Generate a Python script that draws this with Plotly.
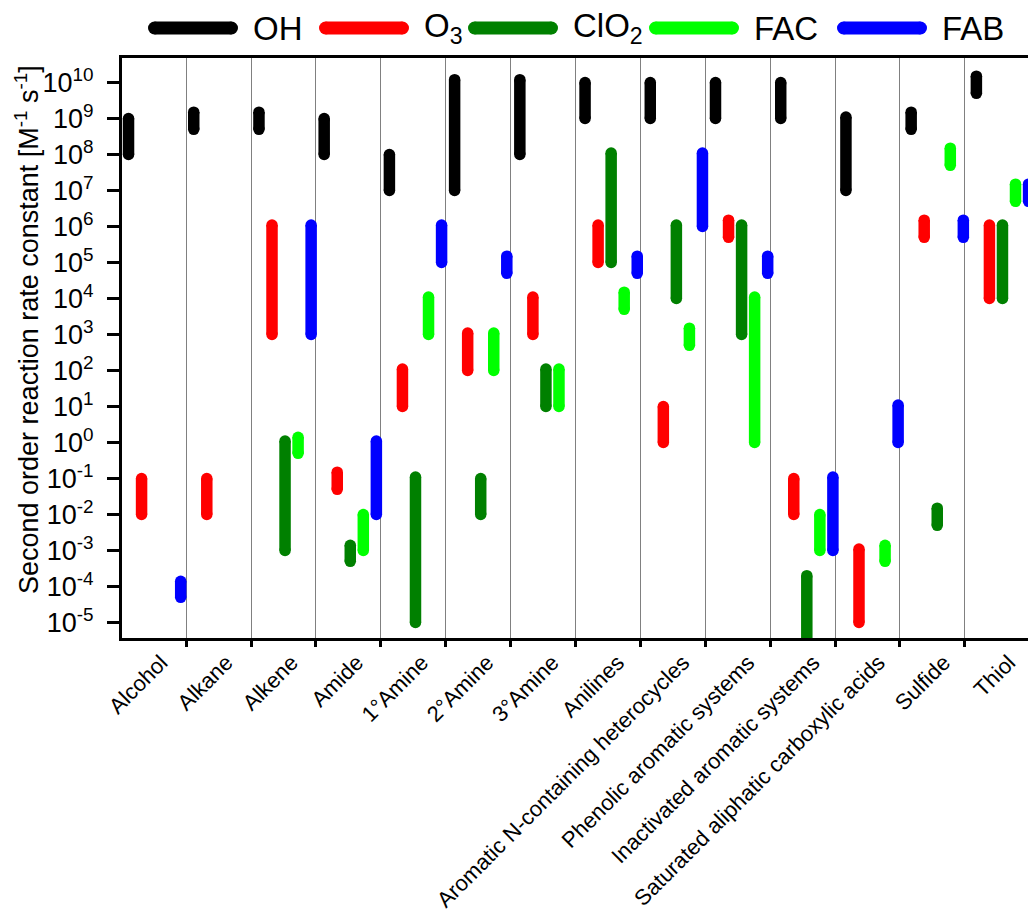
import plotly.graph_objects as go

# Reaction classes (x categories)
categories = [
    "Alcohol", "Alkane", "Alkene", "Amide", "1°Amine", "2°Amine", "3°Amine",
    "Anilines", "Aromatic N-containing heterocycles", "Phenolic aromatic systems",
    "Inactivated aromatic systems", "Saturated aliphatic carboxylic acids",
    "Sulfide", "Thiol",
]

# Oxidant labels and colours
series_names = ["OH", "O<sub>3</sub>", "ClO<sub>2</sub>", "FAC", "FAB"]
series_colors = ["#000000", "#ff0000", "#008000", "#00ff00", "#0000ff"]

# Second order rate constant ranges [M^-1 s^-1]; None = no data
oh_low = [1e8, 5e8, 5e8, 1e8, 1e7, 1e7, 1e8, 1e9, 1e9, 1e9, 1e9, 1e7, 5e8, 5e9]
oh_high = [1e9, 1.5e9, 1.5e9, 1e9, 1e8, 1.2e10, 1.2e10, 1e10, 1e10, 1e10, 1e10, 1.1e9, 1.5e9, 1.5e10]

o3_low = [1e-2, 1e-2, 1e3, 5e-2, 1e1, 1e2, 1e3, 1e5, 1e0, 5e5, 1e-2, 1e-5, 5e5, 1e4]
o3_high = [1e-1, 1e-1, 1.1e6, 1.5e-1, 1.1e2, 1.1e3, 1.1e4, 1.1e6, 1e1, 1.5e6, 1e-1, 1.1e-3, 1.5e6, 1.1e6]

clo2_low = [None, None, 1e-3, 5e-4, 1e-5, 1e-2, 1e1, 1e5, 1e4, 1e3, 1e-6, None, 5e-3, 1e4]
clo2_high = [None, None, 1.1e0, 1.4e-3, 1.1e-1, 1e-1, 1.1e2, 1.1e8, 1.1e6, 1.1e6, 2e-4, None, 1.5e-2, 1.1e6]

fac_low = [None, None, 5e-1, 1e-3, 1e3, 1e2, 1e1, 5e3, 5e2, 1e0, 1e-3, 5e-4, 5e7, 5e6]
fac_high = [None, None, 1.4e0, 1e-2, 1.1e4, 1.1e3, 1.1e2, 1.5e4, 1.5e3, 1.1e4, 1e-2, 1.4e-3, 1.5e8, 1.5e7]

fab_low = [5e-5, None, 1e3, 1e-2, 1e5, 5e4, None, 5e4, 1e6, 5e4, 1e-3, 1e0, 5e5, 5e6]
fab_high = [1.4e-4, None, 1.1e6, 1.1e0, 1.1e6, 1.5e5, None, 1.5e5, 1.1e8, 1.5e5, 1.1e-1, 1.1e1, 1.5e6, 1.5e7]

y_tickvals = [10.0 ** e for e in range(-5, 11)]
y_ticktext = ["10<sup>%d</sup>" % e for e in range(-5, 11)]

lows = [oh_low, o3_low, clo2_low, fac_low, fab_low]
highs = [oh_high, o3_high, clo2_high, fac_high, fab_high]

FONT = "Liberation Sans, Arial, sans-serif"
BAR_W = 11.5

# plot area in page pixels
L, R, T, B = 122, 0, 58, 278
W, H = 1028, 916
plot_w = W - L - R
plot_h = H - T - B
cat_px = 65.22  # pixels per category

fig = go.Figure()

for j, (name, color) in enumerate(zip(series_names, series_colors)):
    xs, ys = [], []
    for k in range(len(categories)):
        lo, hi = lows[j][k], highs[j][k]
        if lo is None or hi is None:
            continue
        x = k + 0.1 + 0.2 * j
        xs += [x, x, None]
        ys += [lo, hi, None]
    fig.add_trace(go.Scatter(
        x=xs, y=ys, mode="lines+markers", name=name, showlegend=False,
        line=dict(color=color, width=BAR_W),
        marker=dict(color=color, size=BAR_W, line=dict(width=0)),
        hoverinfo="skip",
    ))

# category separators, drawn at a slightly tighter pitch than the bars
sep_pitch = 0.995
separators = [k * sep_pitch - 0.012 for k in range(1, len(categories))]

fig.update_layout(
    width=W, height=H,
    margin=dict(l=L, r=R, t=T, b=B, pad=0),
    paper_bgcolor="white", plot_bgcolor="white",
    font=dict(family=FONT, color="black"),
    showlegend=False,
    xaxis=dict(
        range=[0, plot_w / cat_px],
        showline=True, linewidth=3, linecolor="black", mirror=True,
        tickmode="array",
        tickvals=[k + 0.6 for k in range(len(categories))],
        ticktext=categories,
        ticks="", tickangle=-45,
        tickfont=dict(size=22, family=FONT, color="black"),
        showgrid=False, zeroline=False,
        minor=dict(
            tickmode="array", tickvals=separators,
            ticks="outside", ticklen=6, tickwidth=3, tickcolor="black",
            showgrid=True, gridcolor="#808080", gridwidth=1,
        ),
    ),
    yaxis=dict(
        type="log", range=[-5.43, 10.68],
        showline=True, linewidth=3, linecolor="black",
        ticks="outside", ticklen=12, tickwidth=3, tickcolor="black",
        tickmode="array", tickvals=y_tickvals, ticktext=y_ticktext,
        tickfont=dict(size=27, family=FONT, color="black"),
        ticklabelstandoff=8,
        showgrid=False, zeroline=False,
    ),
)


def px_x(px):
    return (px - L) / plot_w


def px_y(py):
    return (H - B - py) / plot_h


# y axis title
fig.add_annotation(
    text="Second order reaction rate constant [M<sup>-1</sup> s<sup>-1</sup>]",
    x=px_x(27), y=px_y(330), xref="paper", yref="paper",
    xanchor="center", yanchor="middle", textangle=-90, showarrow=False,
    font=dict(size=27, family=FONT, color="black"),
)

# legend row across the top
legend_left = [148, 319, 468, 649, 837]
legend_len = 90
legend_y = 28
legend_th = 13
for name, color, left in zip(series_names, series_colors, legend_left):
    x0, x1 = left + legend_th / 2, left + legend_len - legend_th / 2
    fig.add_shape(type="line", xref="paper", yref="paper",
                  x0=px_x(x0), x1=px_x(x1), y0=px_y(legend_y), y1=px_y(legend_y),
                  line=dict(color=color, width=legend_th))
    for cx in (x0, x1):
        fig.add_shape(type="circle", xref="paper", yref="paper",
                      xsizemode="pixel", ysizemode="pixel",
                      xanchor=px_x(cx), yanchor=px_y(legend_y),
                      x0=-legend_th / 2, x1=legend_th / 2,
                      y0=-legend_th / 2, y1=legend_th / 2,
                      fillcolor=color, line=dict(width=0))
    fig.add_annotation(text=name, x=px_x(left + legend_len + 13), y=px_y(legend_y),
                       xref="paper", yref="paper", xanchor="left", yanchor="middle",
                       showarrow=False, font=dict(size=33, family=FONT, color="black"))

fig.write_html("out.html")
